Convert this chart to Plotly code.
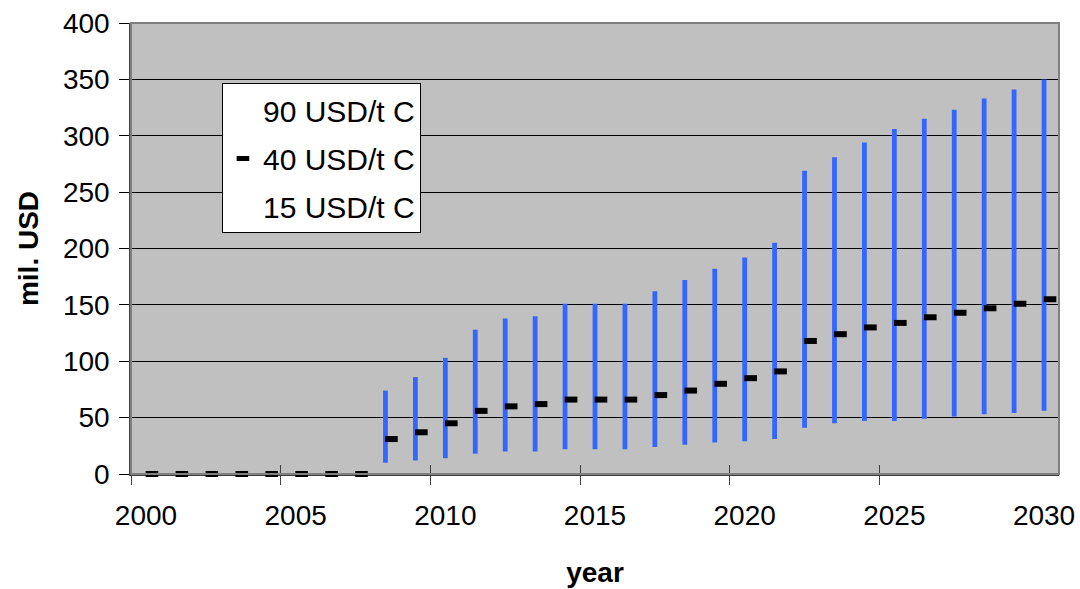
import plotly.graph_objects as go

years = list(range(2000, 2031))
high_90 = [0, 0, 0, 0, 0, 0, 0, 0, 74, 86, 103, 128, 138, 140, 151, 151, 151, 162, 172, 182,
           192, 205, 269, 281, 294, 306, 315, 323, 333, 341, 350]
mid_40 = [0, 0, 0, 0, 0, 0, 0, 0, 31, 37, 45, 56, 60, 62, 66, 66, 66, 70, 74, 80,
          85, 91, 118, 124, 130, 134, 139, 143, 147, 151, 155]
low_15 = [0, 0, 0, 0, 0, 0, 0, 0, 10, 12, 14, 18, 20, 20, 22, 22, 22, 24, 26, 28,
          29, 31, 41, 45, 47, 47, 49, 51, 53, 54, 56]
x_tick_labels = ["2000", "2005", "2010", "2015", "2020", "2025", "2030"]
x_tick_years = [2000, 2005, 2010, 2015, 2020, 2025, 2030]

FONT = "Liberation Sans, Arial, sans-serif"
BLUE = "#3366FF"
X_RANGE = [years[0] - 0.5, years[-1] + 0.5]
CLOSE_SHIFT = 0.2  # close tick sits to the right of the range line
boundaries = [y - 0.5 for y in x_tick_years[:-1]]

fig = go.Figure()

# high-low range bars
fig.add_trace(go.Bar(
    x=years, y=[h - l for h, l in zip(high_90, low_15)], base=low_15,
    width=0.16, marker=dict(color=BLUE, line=dict(width=0)),
    showlegend=False, hoverinfo="skip"))

# legend entry for the high series (invisible markers) on the outer-tick axis
fig.add_trace(go.Scatter(
    x=years, y=high_90, mode="markers", name="90 USD/t C", xaxis="x2",
    marker=dict(color="rgba(0,0,0,0)", size=1), legendgroup="a"))

# 40 USD close ticks on a slightly shifted hidden axis
fig.add_trace(go.Scatter(
    x=years, y=mid_40, mode="markers", name="40 USD/t C", xaxis="x4",
    cliponaxis=False, legendgroup="b",
    marker=dict(symbol="line-ew", size=9, color="black",
                line=dict(color="black", width=6))))

# legend entry for the low series (invisible markers) on the inner-tick axis
fig.add_trace(go.Scatter(
    x=years, y=low_15, mode="markers", name="15 USD/t C", xaxis="x3",
    marker=dict(color="rgba(0,0,0,0)", size=1), legendgroup="c"))

fig.update_layout(
    width=1080, height=589,
    margin=dict(l=131, r=21, t=23, b=115, autoexpand=False),
    paper_bgcolor="white", plot_bgcolor="#C0C0C0",
    font=dict(family=FONT, size=28, color="black"),
    barmode="overlay",
    xaxis=dict(range=X_RANGE, tickvals=x_tick_years, ticktext=x_tick_labels,
               ticks="", showgrid=False, zeroline=False, showline=True,
               linecolor="#404040", linewidth=2, ticklabelstandoff=15,
               tickfont=dict(size=28), layer="below traces", automargin=False,
               title=dict(text="<b>year</b>", font=dict(size=28), standoff=33)),
    xaxis2=dict(overlaying="x", anchor="y", side="bottom", range=X_RANGE,
                tickvals=boundaries, ticks="outside", ticklen=10, tickwidth=1,
                tickcolor="#404040", showticklabels=False, showgrid=False,
                zeroline=False, showline=False),
    xaxis3=dict(overlaying="x", anchor="y", side="bottom", range=X_RANGE,
                tickvals=boundaries, ticks="inside", ticklen=9, tickwidth=1,
                tickcolor="#404040", showticklabels=False, showgrid=False,
                zeroline=False, showline=False),
    xaxis4=dict(overlaying="x", anchor="y", visible=False,
                range=[X_RANGE[0] - CLOSE_SHIFT, X_RANGE[1] - CLOSE_SHIFT]),
    yaxis=dict(range=[0, 400], dtick=50, tick0=0, showgrid=True, gridcolor="black",
               gridwidth=1, zeroline=False, showline=True, linecolor="#404040",
               linewidth=1.5, ticks="outside", ticklen=10, tickcolor="black",
               tickwidth=1, ticklabelstandoff=4, tickfont=dict(size=28),
               automargin=False,
               title=dict(text="<b>mil. USD</b>", font=dict(size=28), standoff=16)),
    legend=dict(x=0.098, y=0.866, xanchor="left", yanchor="top",
                bgcolor="white", bordercolor="black", borderwidth=1,
                font=dict(size=30), traceorder="grouped", tracegroupgap=6),
    shapes=[dict(type="rect", xref="x domain", yref="y domain", x0=0, x1=1, y0=0, y1=1,
                 line=dict(color="#808080", width=2), layer="above")],
)

fig.write_html("out.html")
